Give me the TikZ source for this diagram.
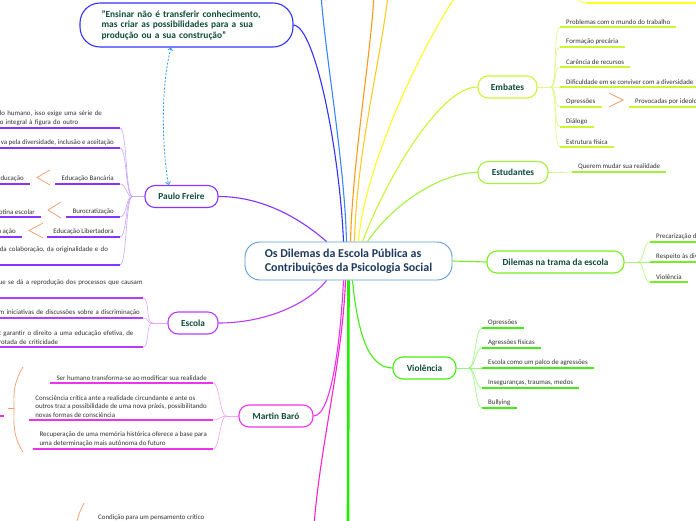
\documentclass[tikz,border=0pt]{standalone}
\usepackage{fontspec}
\setmainfont{Carlito}
\usepackage{tikz}
\usetikzlibrary{positioning, arrows.meta, calc}
\definecolor{mapSky}{HTML}{5B9BD5}
\definecolor{mapNavy}{HTML}{1F3A5F}
\definecolor{mapInk}{HTML}{0E4D3B}
\definecolor{mapText}{HTML}{333333}
\definecolor{mapBlue}{HTML}{3333FF}
\definecolor{mapAzure}{HTML}{3A86FF}
\definecolor{mapDash}{HTML}{3399EE}
\definecolor{mapOrange}{HTML}{FF9A1A}
\definecolor{mapGold}{HTML}{FFCC22}
\definecolor{mapYellow}{HTML}{FFFF22}
\definecolor{mapLime}{HTML}{CCF533}
\definecolor{mapLeaf}{HTML}{A5F03C}
\definecolor{mapGreen}{HTML}{77EE22}
\definecolor{mapNeon}{HTML}{22EE00}
\definecolor{mapViolence}{HTML}{44EE11}
\definecolor{mapPink}{HTML}{FF22CC}
\definecolor{mapMagenta}{HTML}{EE33EE}
\definecolor{mapViolet}{HTML}{8833FF}
\definecolor{mapPurple}{HTML}{B83CFF}
\definecolor{mapBrace}{HTML}{F09A6E}
\newcommand{\leaffont}{\fontsize{6.9}{8.5}\selectfont}
\newcommand{\branchfont}{\fontsize{9.3}{11}\selectfont\bfseries}
\tikzset{
  hub/.style={draw=mapSky, line width=0.9pt, rounded corners=15pt,
    minimum width=207pt, minimum height=38pt, align=left, text=mapNavy,
    font=\fontsize{12}{14}\selectfont\bfseries},
  branch/.style={draw=#1, line width=1.1pt, rounded corners=10pt,
    minimum height=22pt, text=mapInk, font=\branchfont, inner sep=0pt},
  leaf/.style={font=\leaffont, text=mapText, inner xsep=6pt,
    inner ysep=2.6pt, align=left},
  uline/.style={draw=#1, line width=1.6pt},
  twig/.style={draw=#1, line width=0.6pt},
  limb/.style={draw=#1, line width=1.1pt},
  brace/.style={draw=mapBrace, line width=0.7pt}
}

\begin{document}
\begin{tikzpicture}[x=1pt, y=-1pt]
    \useasboundingbox (0,0) rectangle (696,520);
    \fill[white] (0,0) rectangle (696,520);
    \clip (0,0) rectangle (696,520);
    % ---- centre and main branches ----
    \node[hub] (c) at (348.5,261)
      {Os Dilemas da Escola Pública as\\Contribuições da Psicologia Social};
    \node[branch=mapBlue, minimum width=213pt, minimum height=44pt,
          rounded corners=20pt, align=left, text width=170pt,
          font=\fontsize{9.4}{10.6}\selectfont\bfseries] (quote) at (186.5,25)
      {"Ensinar não é transferir conhecimento,\\mas criar as possibilidades para a sua\\produção ou a sua construção"};
    \node[branch=mapViolet, minimum width=73pt] (pf) at (181.5,196.5) {Paulo Freire};
    \node[branch=mapPurple, minimum width=50pt] (esc) at (193,323) {Escola};
    \node[branch=mapMagenta, minimum width=74pt] (mb) at (276,416) {Martin Baró};
    \node[branch=mapLime, minimum width=59pt] (emb) at (507.5,87) {Embates};
    \node[branch=mapLeaf, minimum width=70pt] (est) at (513,172.5) {Estudantes};
    \node[branch=mapGreen, minimum width=137pt] (dil) at (555.5,262)
      {Dilemas na trama da escola};
    \node[branch=mapViolence, minimum width=63pt] (vio) at (424.5,368) {Violência};
    % ends of branches that leave the page
    \coordinate (topA) at (321,-6);
    \coordinate (topB) at (374,-6);
    \coordinate (topC) at (388,-6);
    \coordinate (topD) at (457,-6);
    \coordinate (botA) at (314,526);
    \coordinate (botB) at (348,526);
    \draw[limb=mapBlue] (quote.east) .. controls +(22,2) and +(-4,-90)
      .. ($(c.north)+(-5,0)$);
    \draw[limb=mapAzure] ($(c.north)+(-2,0)$) .. controls +(-2,-80) and +(4,60) .. (topA);
    \draw[limb=mapOrange] ($(c.north)+(2,0)$) .. controls +(2,-80) and +(-3,60) .. (topB);
    \draw[limb=mapGold] ($(c.north)+(6,0)$) .. controls +(2,-90) and +(-6,60) .. (topC);
    \draw[limb=mapYellow] ($(c.north)+(10,0)$) .. controls +(5,-70) and +(-40,60) .. (topD);
    \draw[limb=mapLime] (emb.west) .. controls +(-38,0) and +(23,-61)
      .. ($(c.north)+(14,0)$);
    \draw[limb=mapLeaf] (est.west) .. controls +(-38,0) and +(24,-36)
      .. ($(c.north)+(19,0)$);
    \draw[limb=mapGreen] (c.east) -- (dil.west);
    \draw[limb=mapViolence] ($(c.south)+(4,0)$) .. controls +(5,50) and +(-25,0) .. (vio.west);
    \draw[draw=mapNeon, line width=2.6pt] (c.south) -- (botB);
    \draw[limb=mapPink] ($(c.south)+(-3,0)$) .. controls +(-3,80) and +(6,-80) .. (botA);
    \draw[limb=mapMagenta] (mb.east) .. controls +(18,0) and +(-3,60)
      .. ($(c.south)+(-5,0)$);
    \draw[limb=mapPurple] (esc.east) .. controls +(45,0) and +(-20,25)
      .. ($(c.south west)+(82,0)$);
    \draw[limb=mapViolet] (pf.east) .. controls +(45,0) and +(-25,-22)
      .. ($(c.north west)+(82,0)$);
    \draw[mapDash, line width=0.8pt, dash pattern=on 2pt off 1.6pt,
          {Straight Barb[length=2.5pt]}-{Straight Barb[length=2.5pt]}]
      ($(quote.south)+(-15.5,0)$) .. controls +(-11,43) and +(-6,-35)
      .. ($(pf.north)+(-13,0)$);
    % ---- Paulo Freire ----
    \node[leaf, anchor=south east, text width=114pt] (pf1) at (120,128)
      {lo humano, isso exige uma série de\\o integral à figura do outro};
    \node[leaf, anchor=south east] (pf2) at (120,148)
      {va pela diversidade, inclusão e aceitação};
    \node[leaf, anchor=south east] (pf3) at (120,184) {Educação Bancária};
    \node[leaf, anchor=south east] (pf3a) at (30,184) {ducação};
    \node[leaf, anchor=south east] (pf4) at (120,217) {Burocratização};
    \node[leaf, anchor=south east] (pf4a) at (41,217) {otina escolar};
    \node[leaf, anchor=south east] (pf5) at (120,237) {Educação Libertadora};
    \node[leaf, anchor=south east] (pf5a) at (22,237) {a ação};
    \node[leaf, anchor=south east, text width=114pt] (pf6) at (120,265)
      {da colaboração, da originalidade e do\\\strut};
    \coordinate (pfj) at ($(pf.west)+(-12,0)$);
    \draw[twig=mapViolet!45] (pf.west) -- (pfj);
    \foreach \n in {pf1,pf2,pf3,pf4,pf5,pf6}
      \draw[twig=mapViolet!45] (pfj) .. controls +(-7,0) and +(7,0) .. (\n.south east);
    \foreach \n in {pf1,pf2,pf3,pf3a,pf4,pf4a,pf5,pf5a,pf6}
      \draw[uline=mapViolet] (\n.south west) -- (\n.south east);
    \draw[brace] (50,170) -- (37,177.5) -- (50,185);
    \draw[brace] (61,202) -- (48,210) -- (61,218);
    \draw[brace] (43,223) -- (29,230.5) -- (43,238);
    % ---- Escola ----
    \node[leaf, anchor=south east, inner xsep=2pt, text width=142pt] (es1) at (143,298)
      {\mbox{ue se dá a reprodução dos processos que causam}\\\strut};
    \node[leaf, anchor=south east, inner xsep=2pt, text width=142pt] (es2) at (143,318)
      {m iniciativas de discussões sobre a discriminação};
    \node[leaf, anchor=south east, inner xsep=2pt, text width=142pt] (es3) at (143,347)
      {t garantir o direito a uma educação efetiva, de\\rotada de criticidade};
    \coordinate (esj) at ($(esc.west)+(-15,0)$);
    \draw[twig=mapPurple!45] (esc.west) -- (esj);
    \foreach \n in {es1,es2,es3} {
      \draw[twig=mapPurple!45] (esj) .. controls +(-7,0) and +(7,0) .. (\n.south east);
      \draw[uline=mapPurple] (\n.south west) -- (\n.south east);
    }
    % ---- Martin Baro ----
    \node[leaf, anchor=south east] (mb1) at (213,383)
      {Ser humano transforma-se ao modificar sua realidade};
    \node[leaf, anchor=south east] (mb2) at (213,420)
      {Consciência crítica ante a realidade circundante e ante os\\outros traz a possibilidade de uma nova práxis, possibilitando\\novas formas de consciência};
    \node[leaf, anchor=south east] (mb3) at (213,449)
      {Recuperação de uma memória histórica oferece a base para\\uma determinação mais autônoma do futuro};
    \coordinate (mbj) at ($(mb.west)+(-12,0)$);
    \draw[twig=mapMagenta!45] (mb.west) -- (mbj);
    \foreach \n in {mb1,mb2,mb3} {
      \draw[twig=mapMagenta!45] (mbj) .. controls +(-7,0) and +(7,0) .. (\n.south east);
      \draw[uline=mapMagenta] (\n.south west) -- (\n.south east);
    }
    \draw[brace] (23,367) .. controls (12,385) and (14,398) .. (14,408)
      .. controls (14,420) and (12,435) .. (23,452);
    \draw[brace] (8,408) -- (14,408);
    \draw[uline=mapMagenta] (-10,416) -- (4,416);
    \node[leaf, anchor=south west] (crit) at (92,523)
      {Condição para um pensamento crítico};
    \draw[brace] (84,503) .. controls (80,511) .. (76,524);
    % ---- Embates ----
    \node[leaf, anchor=south west] (em1) at (560,27) {Problemas com o mundo do trabalho};
    \node[leaf, anchor=south west] (em2) at (560,47) {Formação precária};
    \node[leaf, anchor=south west] (em3) at (560,67) {Carência de recursos};
    \node[leaf, anchor=south west] (em4) at (560,87)
      {Dificuldade em se conviver com a diversidade};
    \node[leaf, anchor=south west] (em5) at (560,107) {Opressões};
    \node[leaf, anchor=south west] (em5a) at (629,107) {Provocadas por ideologias};
    \node[leaf, anchor=south west] (em6) at (560,127) {Diálogo};
    \node[leaf, anchor=south west] (em7) at (560,147) {Estrutura física};
    \coordinate (emj) at ($(emb.east)+(13,0)$);
    \draw[twig=mapLime!60] (emb.east) -- (emj);
    \foreach \n in {em1,em2,em3,em4,em5,em6,em7}
      \draw[twig=mapLime!60] (emj) .. controls +(7,0) and +(-7,0) .. (\n.south west);
    \foreach \n in {em1,em2,em3,em4,em5,em5a,em6,em7}
      \draw[uline=mapLime] (\n.south west) -- (\n.south east);
    \draw[brace] (609,93) -- (623,100) -- (609,107);
    \coordinate (yTop) at (586,3);
    \draw[twig=mapYellow] (575,-8) .. controls (577,1) .. (yTop);
    \draw[uline=mapYellow] (yTop) -- (702,3);
    % ---- Estudantes ----
    \node[leaf, anchor=south west] (st1) at (572,172) {Querem mudar sua realidade};
    \draw[twig=mapLeaf!70] (est.east) -- (st1.south west);
    \draw[uline=mapLeaf] (st1.south west) -- (st1.south east);
    % ---- Dilemas na trama da escola ----
    \node[leaf, anchor=south west] (dl1) at (650,242) {Precarização do ensino};
    \node[leaf, anchor=south west] (dl2) at (650,262) {Respeito às diversidades};
    \node[leaf, anchor=south west] (dl3) at (650,282) {Violência};
    \coordinate (dlj) at ($(dil.east)+(13,0)$);
    \draw[twig=mapGreen!60] (dil.east) -- (dlj);
    \foreach \n in {dl1,dl2,dl3} {
      \draw[twig=mapGreen!60] (dlj) .. controls +(7,0) and +(-7,0) .. (\n.south west);
      \draw[uline=mapGreen] (\n.south west) -- (\n.south east);
    }
    % ---- Violencia ----
    \node[leaf, anchor=south west] (vi1) at (482,328) {Opressões};
    \node[leaf, anchor=south west] (vi2) at (482,348) {Agressões físicas};
    \node[leaf, anchor=south west] (vi3) at (482,368) {Escola como um palco de agressões};
    \node[leaf, anchor=south west] (vi4) at (482,388) {Inseguranças, traumas, medos};
    \node[leaf, anchor=south west] (vi5) at (482,408) {Bullying};
    \coordinate (vij) at ($(vio.east)+(12,0)$);
    \draw[twig=mapViolence!55] (vio.east) -- (vij);
    \foreach \n in {vi1,vi2,vi3,vi4,vi5} {
      \draw[twig=mapViolence!55] (vij) .. controls +(7,0) and +(-7,0) .. (\n.south west);
      \draw[uline=mapViolence] (\n.south west) -- (\n.south east);
    }
\end{tikzpicture}
\end{document}
